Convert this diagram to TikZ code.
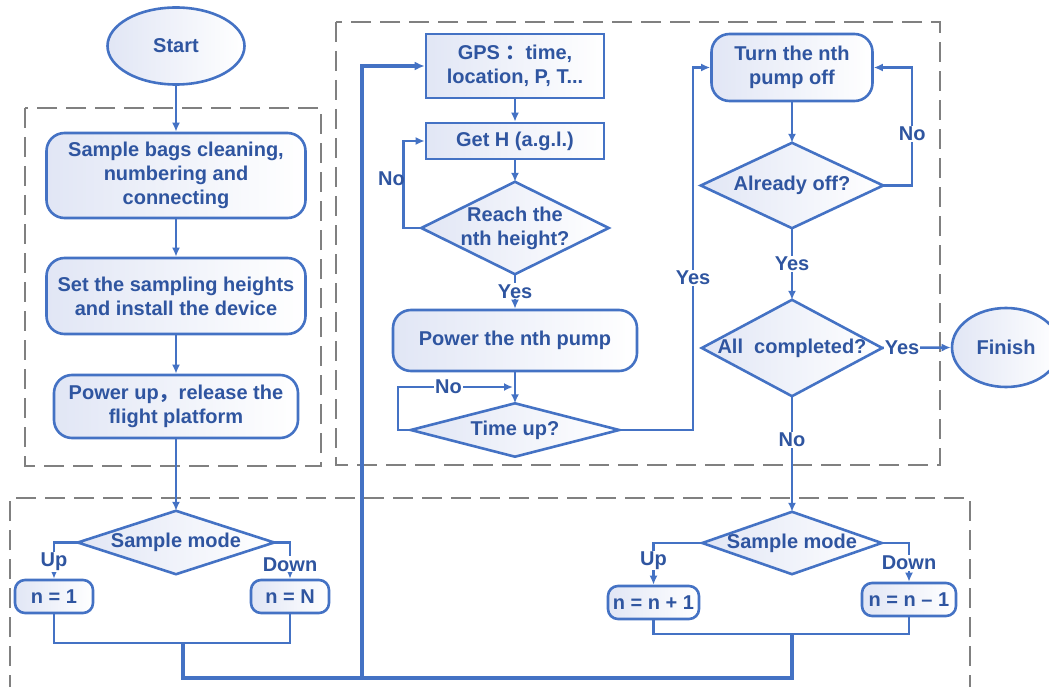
\documentclass[tikz,border=0pt]{standalone}
\usepackage{fontspec}
\setmainfont{Liberation Sans}
\newfontfamily\cjk{Noto Sans CJK SC}
\usetikzlibrary{arrows.meta,shapes.geometric}
\definecolor{lc}{RGB}{68,114,196}
\definecolor{tc}{RGB}{47,85,160}
\definecolor{fc}{RGB}{225,230,245}
\definecolor{dc}{RGB}{128,128,128}
\pgfdeclarelayer{bg}
\pgfsetlayers{bg,main}
\tikzset{
 base/.style={font=\bfseries\fontsize{20}{24}\selectfont, text=tc, align=center},
 rbox/.style={base, draw=lc, line width=2.6pt, rounded corners=18pt, left color=fc, right color=white, inner sep=0pt},
 sbox/.style={base, draw=lc, line width=2.6pt, left color=fc, right color=white, inner sep=0pt},
 oval/.style={base, ellipse, draw=lc, line width=2.6pt, left color=fc, right color=white, inner sep=0pt},
 dtxt/.style={base, inner sep=0pt},
 dshape/.style={draw=lc, line width=2.6pt, left color=fc, right color=white},
 conn/.style={draw=lc, line width=2.5pt},
 bus/.style={draw=lc, line width=3.6pt},
 arr/.style={conn, -{Latex[length=9pt,width=8pt]}},
 lbl/.style={base, fill=white, inner sep=1pt},
 lbln/.style={base, inner sep=0pt},
 dbox/.style={draw=dc, line width=1.3pt, dash pattern=on 20pt off 9pt},
}
\newcommand\mydia[1]{\begin{pgfonlayer}{bg}\path[dshape] (#1.north) -- (#1.east) -- (#1.south) -- (#1.west) -- cycle;\end{pgfonlayer}}
\begin{document}
\begin{tikzpicture}[x=1pt,y=-1pt]
\useasboundingbox (0,0) rectangle (1049,687);
\clip (0,0) rectangle (1049,687);
% dashed groups
\draw[dbox] (25,108) rectangle (321,466);
\draw[dbox] (336,22) rectangle (940,465);
\draw[dbox] (10,695) -- (10,498) -- (970,498) -- (970,695);
% left column
\node[oval, minimum width=137, minimum height=77] (start) at (176,46) {Start};
\node[rbox, minimum width=259, minimum height=85] (s1) at (176,175.5) {Sample bags cleaning,\\numbering and\\connecting};
\node[rbox, minimum width=259, minimum height=76] (s2) at (176,296) {Set the sampling heights\\and install the device};
\node[rbox, minimum width=244, minimum height=63] (s3) at (176,406.5) {Power up{\cjk，}release the\\flight platform};
\node[dtxt, minimum width=196, minimum height=63] (sm1) at (176,542.5) {Sample mode};
\mydia{sm1}
\node[rbox, rounded corners=10pt, minimum width=78, minimum height=33] (n1) at (54,596.5) {n = 1};
\node[rbox, rounded corners=10pt, minimum width=78, minimum height=33] (nN) at (290,596.5) {n = N};
% middle column
\node[sbox, minimum width=178, minimum height=64] (gps) at (515,66) {GPS {\cjk：}time,\\location, P, T...};
\node[sbox, minimum width=178, minimum height=36] (geth) at (515,141) {Get H (a.g.l.)};
\node[dtxt, minimum width=187, minimum height=92] (reach) at (515,228) {Reach the\\nth height?};
\mydia{reach}
\node[rbox, minimum width=244, minimum height=61] (pump) at (515,340.5) {Power the nth pump};
\node[dtxt, minimum width=208, minimum height=53] (timeup) at (515,430) {Time up?};
\mydia{timeup}
% right column
\node[rbox, minimum width=161, minimum height=67] (off) at (792,67.5) {Turn the nth\\pump off};
\node[dtxt, minimum width=182, minimum height=85] (already) at (792,185.5) {Already off?};
\mydia{already}
\node[dtxt, minimum width=180, minimum height=96] (allc) at (792,348) {All\ \ completed?};
\mydia{allc}
\node[oval, minimum width=108, minimum height=79] (finish) at (1006,347.5) {Finish};
\node[dtxt, minimum width=179, minimum height=62] (sm2) at (792,543) {Sample mode};
\mydia{sm2}
\node[rbox, rounded corners=10pt, minimum width=91, minimum height=33] (np) at (653.5,602.5) {n = n + 1};
\node[rbox, rounded corners=10pt, minimum width=94, minimum height=33] (nm) at (909,599.5) {n = n -- 1};
% coordinates
\coordinate (jl) at (183,643);
\coordinate (bl) at (183,678);
\coordinate (bx) at (362,678);
\coordinate (br) at (792,678);
\coordinate (jr) at (792,634);
\coordinate (tj) at (513,387);
\coordinate (ty) at (693,430);
% connectors left
\draw[arr] (start.south) -- (s1.north);
\draw[arr] (s1) -- (s2);
\draw[arr] (s2) -- (s3);
\draw[arr] (s3) -- (sm1.north);
\draw[arr] (sm1.west) -| node[lbl, pos=0.77] {Up} (n1.north);
\draw[arr] (sm1.east) -| node[lbl, pos=0.80] {Down} (nN.north);
\draw[conn] (n1.south) |- (jl) -| (nN.south);
\draw[bus, line join=miter] (jl) -- (bl) -- (br) -- (jr);
\draw[conn] (np.south) |- (jr) -| (nm.south);
\draw[bus, -{Latex[length=10pt,width=9pt]}] (bx) |- (gps.west);
% connectors middle
\draw[arr] (gps) -- (geth);
\draw[arr] (geth) -- (reach.north);
\draw[arr] (reach.west) -- ++(-18,0) |- (geth.west);
\node[lbln, anchor=east] (lno1) at (405,179) {No};
\draw[arr] (reach.south) -- node[lbl] {Yes} (pump.north);
\draw[arr] (pump) -- (timeup.north);
\draw[arr] (timeup.west) -- ++(-13,0) |- node[lbl, pos=0.72] {No} (tj);
% connectors right
\draw[arr] (timeup.east) -- (ty) |- node[lbl, pos=0.21] {Yes} (off.west);
\draw[arr] (off) -- (already.north);
\draw[arr] (already.east) -- ++(29,0) |- node[lbl, pos=0.22] {No} (off.east);
\draw[arr] (already.south) -- node[lbl] {Yes} (allc.north);
\draw[arr] (allc.east) -- node[lbl, pos=0.29] {Yes} (finish.west);
\draw[arr] (allc.south) -- node[lbl, pos=0.38] {No} (sm2.north);
\draw[arr] (sm2.west) -| node[lbl, pos=0.71] {Up} (np.north);
\draw[arr] (sm2.east) -| node[lbl, pos=0.76] {Down} (nm.north);
\end{tikzpicture}
\end{document}
